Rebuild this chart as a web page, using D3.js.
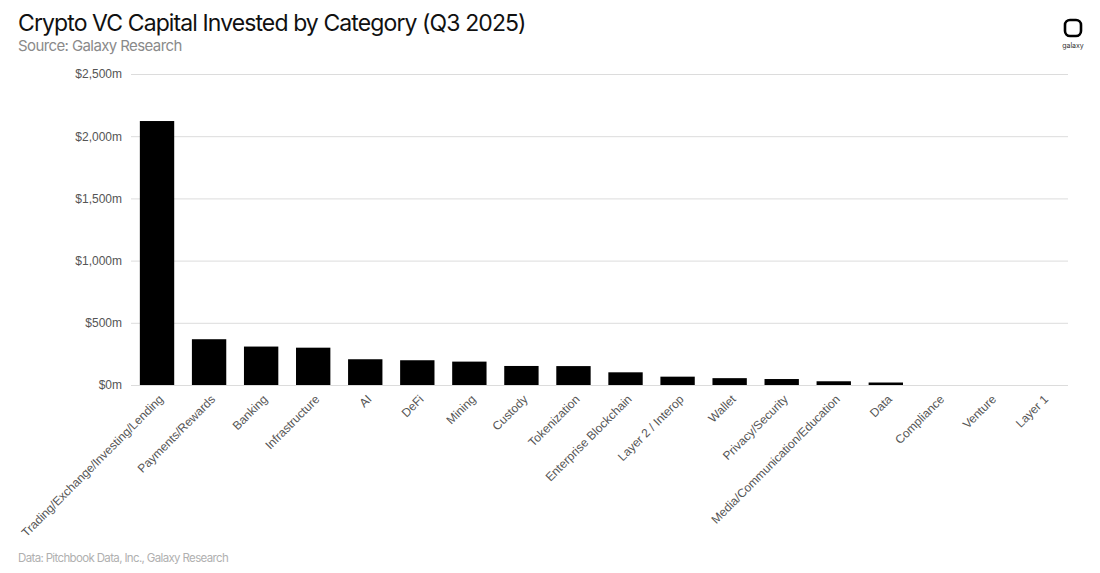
<!DOCTYPE html>
<html>
<head>
<meta charset="utf-8">
<script src="https://cdn.jsdelivr.net/npm/d3@7"></script>
<style>
  body { margin: 0; background: #fff; }
  svg { display: block; }
</style>
</head>
<body>
<script>
// chart data
var categories = ["Trading/Exchange/Investing/Lending", "Payments/Rewards", "Banking",
    "Infrastructure", "AI", "DeFi", "Mining", "Custody", "Tokenization",
    "Enterprise Blockchain", "Layer 2 / Interop", "Wallet", "Privacy/Security",
    "Media/Communication/Education", "Data", "Compliance", "Venture", "Layer 1"];
var invested = [2122, 368, 309, 300, 207, 199, 188, 153, 152, 102, 67, 55, 48, 30, 20, 0, 0, 0];
var yTicks = [0, 500, 1000, 1500, 2000, 2500];

var width = 1100,
    height = 573;

var svg = d3.select("body")
    .append("svg")
    .attr("width", width)
    .attr("height", height);

var x = d3.scaleBand()
    .domain(categories)
    .range([131, 1068])
    .paddingInner(0.34)
    .paddingOuter(0.17);

var y = d3.scaleLinear()
    .domain([0, 2500])
    .range([385, 74]);

//gridlines
svg.append("g")
    .selectAll("line")
    .data(yTicks)
    .enter()
    .append("line")
    .attr("x1", 131)
    .attr("x2", 1068)
    .attr("y1", function(d){ return y(d) + 0.5; })
    .attr("y2", function(d){ return y(d) + 0.5; })
    .attr("stroke", "#dcdcdc")
    .attr("stroke-width", 1);

//y axis labels
var yAxis = svg.append("g")
    .attr("transform", "translate(122,0)")
    .call(d3.axisLeft(y)
        .tickValues(yTicks)
        .tickSize(0)
        .tickPadding(0)
        .tickFormat(function(d){ return "$" + d3.format(",")(d) + "m"; }));
yAxis.select(".domain").remove();
yAxis.selectAll("text")
    .attr("font-family", "Liberation Sans, Arial, sans-serif")
    .attr("font-size", 12)
    .attr("fill", "#555");

//bars
svg.append("g")
    .selectAll("rect")
    .data(invested)
    .enter()
    .append("rect")
    .attr("x", function(d, i){ return x(categories[i]); })
    .attr("y", function(d){ return y(d); })
    .attr("width", x.bandwidth())
    .attr("height", function(d){ return y(0) - y(d); })
    .attr("fill", "#000");

//x axis labels, rotated
var xAxis = svg.append("g")
    .attr("transform", "translate(0,385)")
    .call(d3.axisBottom(x).tickSize(0).tickPadding(0));
xAxis.select(".domain").remove();
xAxis.selectAll("text")
    .attr("font-family", "Liberation Sans, Arial, sans-serif")
    .attr("font-size", 12)
    .attr("fill", "#555")
    .attr("text-anchor", "end")
    .attr("dy", null)
    .attr("transform", "translate(7,15) rotate(-45)");

//titles
svg.append("text")
    .attr("x", 18)
    .attr("y", 31)
    .attr("font-family", "Inter, sans-serif")
    .attr("font-size", 23)
    .attr("letter-spacing", -0.9)
    .attr("fill", "#111")
    .text("Crypto VC Capital Invested by Category (Q3 2025)");

svg.append("text")
    .attr("x", 18)
    .attr("y", 51)
    .attr("font-family", "Inter, sans-serif")
    .attr("font-size", 15)
    .attr("letter-spacing", -0.6)
    .attr("fill", "#8a8a8a")
    .text("Source: Galaxy Research");

svg.append("text")
    .attr("x", 18)
    .attr("y", 562)
    .attr("font-family", "Inter, sans-serif")
    .attr("font-size", 11.5)
    .attr("letter-spacing", -0.65)
    .attr("fill", "#b0b0b0")
    .text("Data: Pitchbook Data, Inc., Galaxy Research");

//logo
svg.append("rect")
    .attr("x", 1065)
    .attr("y", 20)
    .attr("width", 16)
    .attr("height", 16)
    .attr("rx", 5)
    .attr("fill", "none")
    .attr("stroke", "#000")
    .attr("stroke-width", 2.6);

svg.append("text")
    .attr("x", 1073)
    .attr("y", 48)
    .attr("text-anchor", "middle")
    .attr("font-family", "Inter, sans-serif")
    .attr("font-size", 7)
    .attr("fill", "#333")
    .text("galaxy");
</script>
</body>
</html>
